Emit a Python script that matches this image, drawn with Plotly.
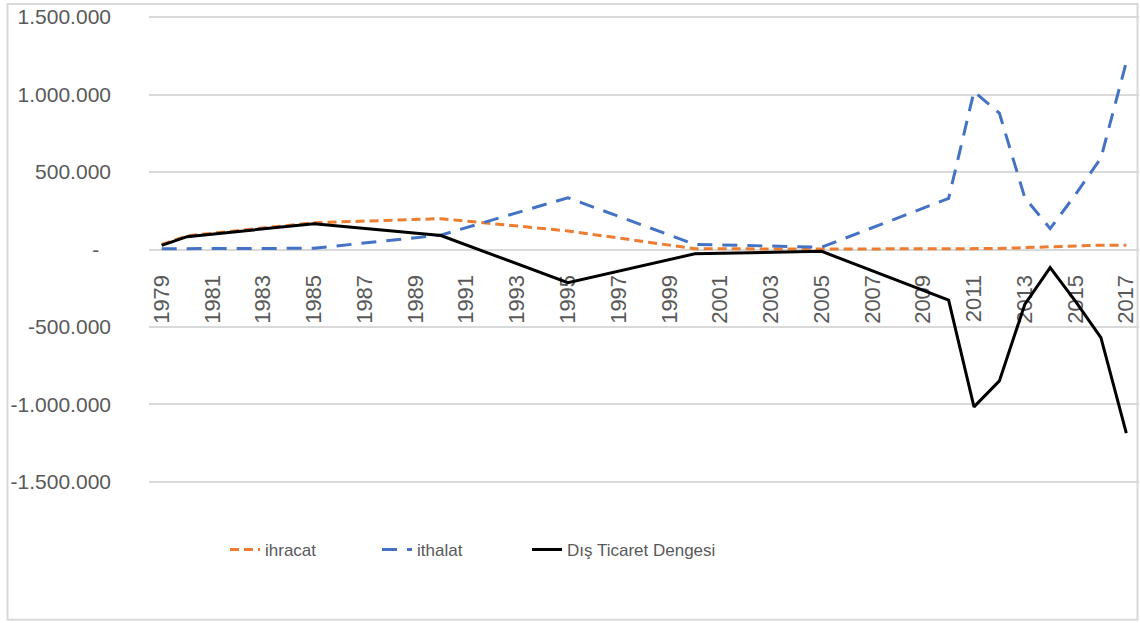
import plotly.graph_objects as go

# yillar (sadece veri olan yillar, aradaki bos yillar cizgiyle birlestiriliyor)
years = [1979, 1980, 1985, 1990, 1995, 2000, 2005, 2010, 2011, 2012, 2013, 2014, 2015, 2016, 2017]
ihracat = [32000, 88000, 173000, 199000, 120000, 5000, 3000, 3000, 4000, 6000, 12000, 18000, 25000, 28000, 28000]
ithalat = [5000, 5000, 8000, 93000, 334000, 33000, 15000, 330000, 1020000, 880000, 335000, 135000, 355000, 590000, 1210000]
denge = [27000, 83000, 166000, 90000, -214000, -28000, -12000, -327000, -1016000, -848000, -355000, -117000, -335000, -569000, -1185000]

y_ticks = [-1500000, -1000000, -500000, 0, 500000, 1000000, 1500000]
y_labels = ["-1.500.000", "-1.000.000", "-500.000", "-\u00a0\u00a0", "500.000", "1.000.000", "1.500.000"]

GRID = "#d9d9d9"
TEXT = "#595959"

# piksel -> paper donusumu (cizim alani 149..1139 x 13.9..485.1)
PX_L, PX_W = 149, 990
PY_B, PY_H = 485.1, 471.2

fig = go.Figure()
fig.add_trace(go.Scatter(x=years, y=ihracat, mode="lines", name="ihracat", legend="legend",
                         line=dict(color="#ED7D31", width=3, dash="9px,5px")))
fig.add_trace(go.Scatter(x=years, y=ithalat, mode="lines", name="ithalat", legend="legend2",
                         line=dict(color="#4472C4", width=3, dash="15px,10px")))
fig.add_trace(go.Scatter(x=years, y=denge, mode="lines", name="Dış Ticaret Dengesi", legend="legend3",
                         line=dict(color="#000000", width=3)))

# her seri icin ayri legend, Excel'deki yerlesime gore
leg = dict(orientation="h", y=(PY_B - 550) / PY_H, xanchor="left", yanchor="middle",
           font=dict(family="Liberation Sans, Arial, sans-serif", size=17, color=TEXT),
           bgcolor="rgba(0,0,0,0)")

fig.update_layout(
    width=1140, height=623,
    margin=dict(l=149, r=1, t=13.9, b=137.9, autoexpand=False),
    paper_bgcolor="white", plot_bgcolor="white",
    font=dict(family="Liberation Sans, Arial, sans-serif", color=TEXT),
    showlegend=True,
    legend=dict(leg, x=(225 - PX_L) / PX_W),
    legend2=dict(leg, x=(377 - PX_L) / PX_W),
    legend3=dict(leg, x=(527 - PX_L) / PX_W),
    shapes=[dict(type="rect", xref="paper", yref="paper",
                 x0=(7.5 - PX_L) / PX_W, x1=(1137.5 - PX_L) / PX_W,
                 y0=(PY_B - 620) / PY_H, y1=(PY_B - 4) / PY_H,
                 line=dict(color=GRID, width=2), layer="below")],
)

fig.update_xaxes(range=[1978.5, 2017.5], tickmode="linear", tick0=1979, dtick=2,
                 tickangle=-90, showgrid=False, showline=False, zeroline=False,
                 anchor="free", position=0.5, ticks="", ticklabelstandoff=20,
                 tickfont=dict(size=22, color=TEXT), layer="below traces", automargin=False)
fig.update_yaxes(range=[-1520000, 1520000], tickvals=y_ticks, ticktext=y_labels,
                 showgrid=True, gridcolor=GRID, gridwidth=2,
                 zeroline=True, zerolinecolor=GRID, zerolinewidth=2, automargin=False,
                 ticks="", ticklabelstandoff=37, tickfont=dict(size=21, color=TEXT))

# sayfanin varsayilan 8px kenar boslugunu kaldir
fig.write_html("out.html", config={"displayModeBar": False},
               post_script="document.body.style.margin='0';")
